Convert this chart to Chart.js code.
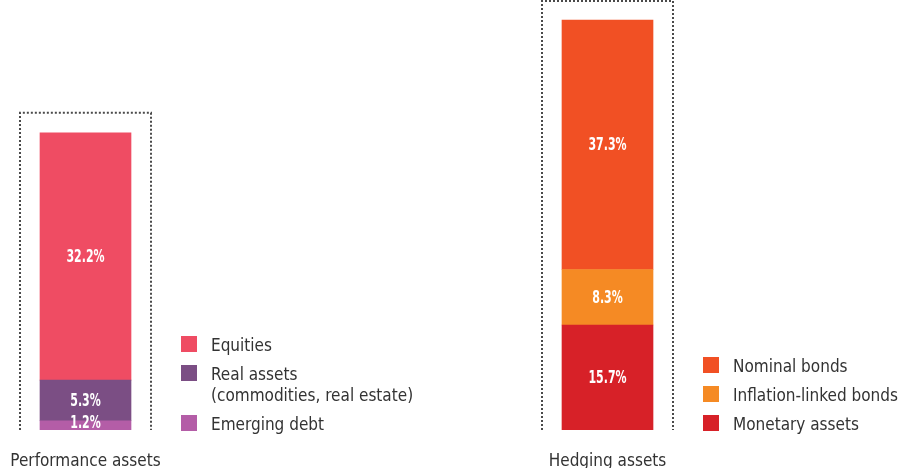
<!DOCTYPE html>
<html>
<head>
<meta charset="utf-8">
<title>Portfolio breakdown</title>
<script src="https://cdn.jsdelivr.net/npm/chart.js@4/dist/chart.umd.min.js"></script>
<style>
  html, body { margin: 0; padding: 0; background: #ffffff; }
  #wrap { position: relative; width: 898px; height: 468px; overflow: hidden; }
  canvas { position: absolute; top: 0; }
  #perf { left: 0; }
  #hedge { left: 449px; }
</style>
</head>
<body>
<div id="wrap">
  <canvas id="perf" width="449" height="468"></canvas>
  <canvas id="hedge" width="449" height="468"></canvas>
</div>
<script>
// Group names (drawn under each bar)
const groups = ['Performance assets', 'Hedging assets'];

// Performance assets, listed top of the stack first
const perfSeries = ['Equities', 'Real assets\n(commodities, real estate)', 'Emerging debt'];
const perfValues = [32.2, 5.3, 1.2];
const perfColors = ['#EF4C63', '#7B4E84', '#B45DA7'];

// Hedging assets, listed top of the stack first
const hedgeSeries = ['Nominal bonds', 'Inflation-linked bonds', 'Monetary assets'];
const hedgeValues = [37.3, 8.3, 15.7];
const hedgeColors = ['#F15024', '#F58A24', '#D72128'];

// Each panel has its own vertical scale
const perfMax = 56;
const hedgeMax = 64.3;

const TEXT_FONT = '"DejaVu Sans Condensed", "Liberation Sans Narrow", "Liberation Sans", sans-serif';

// Value labels, dotted frame, legend and group name, all placed from the bar elements
const decorations = {
  id: 'decorations',
  afterDatasetsDraw(chart) {
    const ctx = chart.ctx;
    const metas = chart.data.datasets.map((d, i) => chart.getDatasetMeta(i));
    const bottomEl = metas[0].data[0];
    const topEl = metas[metas.length - 1].data[0];
    const half = topEl.width / 2;
    const barLeft = topEl.x - half;
    const barRight = topEl.x + half;
    const barTop = topEl.y;
    const barBottom = bottomEl.base;

    ctx.save();

    // percentage inside each segment, in a compressed bold face
    ctx.fillStyle = '#ffffff';
    ctx.font = 'bold 18px ' + TEXT_FONT;
    ctx.textAlign = 'center';
    ctx.textBaseline = 'middle';
    chart.data.datasets.forEach((ds, i) => {
      const el = metas[i].data[0];
      const small = Math.abs(el.base - el.y) < 14;
      ctx.save();
      ctx.translate(el.x, (el.y + el.base) / 2 + (small ? -2 : 1));
      ctx.scale(0.68, 1);
      ctx.fillText(ds.data[0].toFixed(1) + '%', 0, 0);
      ctx.restore();
    });

    // dotted frame, open at the bottom
    ctx.strokeStyle = '#4a4a4a';
    ctx.lineWidth = 2;
    ctx.setLineDash([2, 2]);
    const pad = 20;
    const fTop = Math.max(barTop - pad, 1);
    ctx.beginPath();
    ctx.moveTo(barLeft - pad, barBottom);
    ctx.lineTo(barLeft - pad, fTop);
    ctx.lineTo(barRight + pad, fTop);
    ctx.lineTo(barRight + pad, barBottom);
    ctx.stroke();
    ctx.setLineDash([]);

    // legend, top of stack first, bottom row aligned with the bar base
    const items = chart.data.datasets.slice().reverse();
    const sq = 16, rowGap = 29, lineH = 21;
    const lx = barRight + 50;
    const rows = items.map(ds => ds.label.split('\n'));
    let total = 0;
    rows.forEach((lines, i) => { total += (i ? rowGap : 0) + (lines.length - 1) * lineH; });
    let y = barBottom + 1 - sq - total;
    ctx.font = '17px ' + TEXT_FONT;
    ctx.textAlign = 'left';
    ctx.textBaseline = 'alphabetic';
    items.forEach((ds, i) => {
      const lines = rows[i];
      ctx.fillStyle = ds.backgroundColor;
      ctx.fillRect(lx, y, sq, sq);
      ctx.fillStyle = '#333333';
      lines.forEach((t, k) => ctx.fillText(t, lx + 30, y + 15 + k * lineH));
      y += rowGap + (lines.length - 1) * lineH;
    });

    // group name under the bar
    ctx.textAlign = 'center';
    ctx.fillStyle = '#333333';
    ctx.fillText(chart.data.labels[0], topEl.x, 466);

    ctx.restore();
  }
};

function buildChart(canvasId, group, series, values, colors, yMax, padLeft, padRight) {
  // Chart.js stacks from the first dataset upward, so list the bottom segment first
  const datasets = series.map((name, i) => ({
    label: name,
    data: [values[i]],
    backgroundColor: colors[i],
    borderWidth: 0,
    barThickness: 91
  })).reverse();

  return new Chart(document.getElementById(canvasId), {
    type: 'bar',
    data: { labels: [group], datasets },
    options: {
      responsive: false,
      animation: false,
      events: [],
      layout: { padding: { left: padLeft, right: padRight, top: 0, bottom: 38 } },
      plugins: { legend: { display: false }, tooltip: { enabled: false } },
      scales: {
        x: { stacked: true, display: false },
        y: { stacked: true, display: false, min: 0, max: yMax }
      }
    },
    plugins: [decorations]
  });
}

buildChart('perf', groups[0], perfSeries, perfValues, perfColors, perfMax, 0, 278);
buildChart('hedge', groups[1], hedgeSeries, hedgeValues, hedgeColors, hedgeMax, 0, 132);
</script>
</body>
</html>
